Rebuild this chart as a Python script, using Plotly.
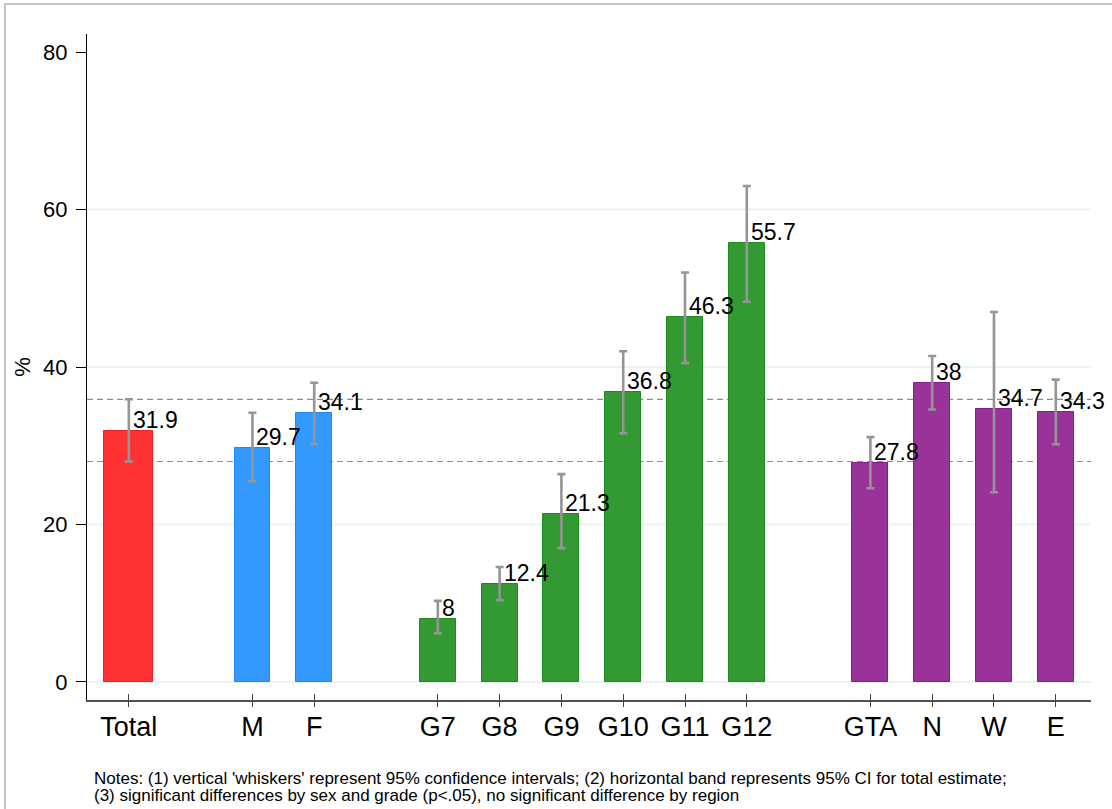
import plotly.graph_objects as go

# data
categories = ["Total", "M", "F", "G7", "G8", "G9", "G10", "G11", "G12", "GTA", "N", "W", "E"]
groups = ["total", "sex", "sex", "grade", "grade", "grade", "grade", "grade", "grade",
          "region", "region", "region", "region"]
values = [31.9, 29.7, 34.1, 8, 12.4, 21.3, 36.8, 46.3, 55.7, 27.8, 38, 34.7, 34.3]
ci_low = [28.0, 25.5, 30.2, 6.2, 10.4, 17.0, 31.6, 40.5, 48.3, 24.6, 34.6, 24.1, 30.2]
ci_high = [35.9, 34.2, 38.0, 10.3, 14.6, 26.4, 42.0, 52.0, 63.0, 31.1, 41.4, 47.0, 38.4]
y_ticks = [0, 20, 40, 60, 80]
notes = [
    "Notes: (1) vertical 'whiskers' represent 95% confidence intervals; (2) horizontal band represents 95% CI for total estimate;",
    "(3) significant differences by sex and grade (p<.05), no significant difference by region",
]

group_fill = {"total": "#ff3333", "sex": "#3399ff", "grade": "#339933", "region": "#993399"}
group_edge = {"total": "#e8222a", "sex": "#1f88f0", "grade": "#1e8a1e", "region": "#8a1a8a"}
FONT = "Liberation Sans, Arial, sans-serif"

# slot positions: one empty slot between groups
xpos = []
slot = 0
for i, g in enumerate(groups):
    if i > 0 and g != groups[i - 1]:
        slot += 1
    xpos.append(slot)
    slot += 1

widths = [0.79 if g == "total" else 0.58 for g in groups]
err_up = [h - v for h, v in zip(ci_high, values)]
err_down = [v - l for v, l in zip(values, ci_low)]

fig = go.Figure()
fig.add_trace(go.Bar(
    x=xpos, y=values, width=widths,
    marker=dict(color=[group_fill[g] for g in groups],
                line=dict(color=[group_edge[g] for g in groups], width=1)),
    error_y=dict(type="data", symmetric=False, array=err_up, arrayminus=err_down,
                 color="#959595", thickness=2.6, width=4),
    showlegend=False, hoverinfo="skip",
))
# dummy trace so the overlay axis (outer half of the crossing ticks) is drawn
fig.add_trace(go.Scatter(x=[xpos[0]], y=[values[0]], xaxis="x2", mode="markers",
                         marker=dict(opacity=0), showlegend=False, hoverinfo="skip"))

# value labels
for x, v in zip(xpos, values):
    fig.add_annotation(x=x, y=v, text=f"{v:g}", showarrow=False, xanchor="left",
                       yanchor="bottom", xshift=2, yshift=-4,
                       font=dict(family=FONT, size=23, color="black"))

# gridlines (not at the top tick) and CI band of total estimate
for g in y_ticks[:-1]:
    fig.add_shape(type="line", xref="paper", x0=0, x1=1, yref="y", y0=g, y1=g,
                  line=dict(color="#eaf2f3", width=2), layer="below")
for b in (ci_low[0], ci_high[0]):
    fig.add_shape(type="line", xref="paper", x0=0, x1=1, yref="y", y0=b, y1=b,
                  line=dict(color="#8c8c8c", width=1.2, dash="6px,4px"), layer="below")

# outer frame
fig.add_shape(type="rect", xref="paper", yref="paper",
              x0=-82 / 1004, x1=1.1, y0=-0.2, y1=1 + 30 / 666,
              line=dict(color="#c4c4c4", width=2), fillcolor="rgba(0,0,0,0)")

for i, t in enumerate(notes):
    fig.add_annotation(xref="paper", yref="paper", x=0, y=0, xanchor="left", yanchor="top",
                       xshift=5, yshift=-67 - 17 * i, text=t, showarrow=False,
                       font=dict(family=FONT, size=17, color="black"))

xrange = [-0.677, 15.57]
fig.update_layout(
    width=1112, height=809,
    margin=dict(l=87, r=21, t=34, b=109),
    paper_bgcolor="white", plot_bgcolor="white",
    font=dict(family=FONT, color="black"),
    bargap=0,
    xaxis=dict(range=xrange, tickmode="array", tickvals=xpos, ticktext=categories,
               showgrid=False, zeroline=False, showline=True, linecolor="#505050", linewidth=2,
               ticks="inside", ticklen=6, tickwidth=1, tickcolor="#404040",
               tickfont=dict(family=FONT, size=27, color="black"), ticklabelstandoff=2),
    xaxis2=dict(range=xrange, overlaying="x", anchor="y", side="bottom", matches="x",
                tickmode="array", tickvals=xpos, showticklabels=False, showgrid=False,
                zeroline=False, showline=False, ticks="outside", ticklen=6, tickwidth=1,
                tickcolor="#404040"),
    yaxis=dict(range=[-2.29, 82.3], tickmode="array", tickvals=y_ticks,
               showgrid=False, zeroline=False, showline=True, linecolor="black", linewidth=1,
               ticks="outside", ticklen=10, tickwidth=1, tickcolor="black",
               tickfont=dict(family=FONT, size=22, color="black"), ticklabelstandoff=4,
               title=dict(text="%", font=dict(family=FONT, size=22, color="black"), standoff=6)),
)

fig.write_html("out.html", config={"displayModeBar": False},
               post_script="document.body.style.margin='0';")
